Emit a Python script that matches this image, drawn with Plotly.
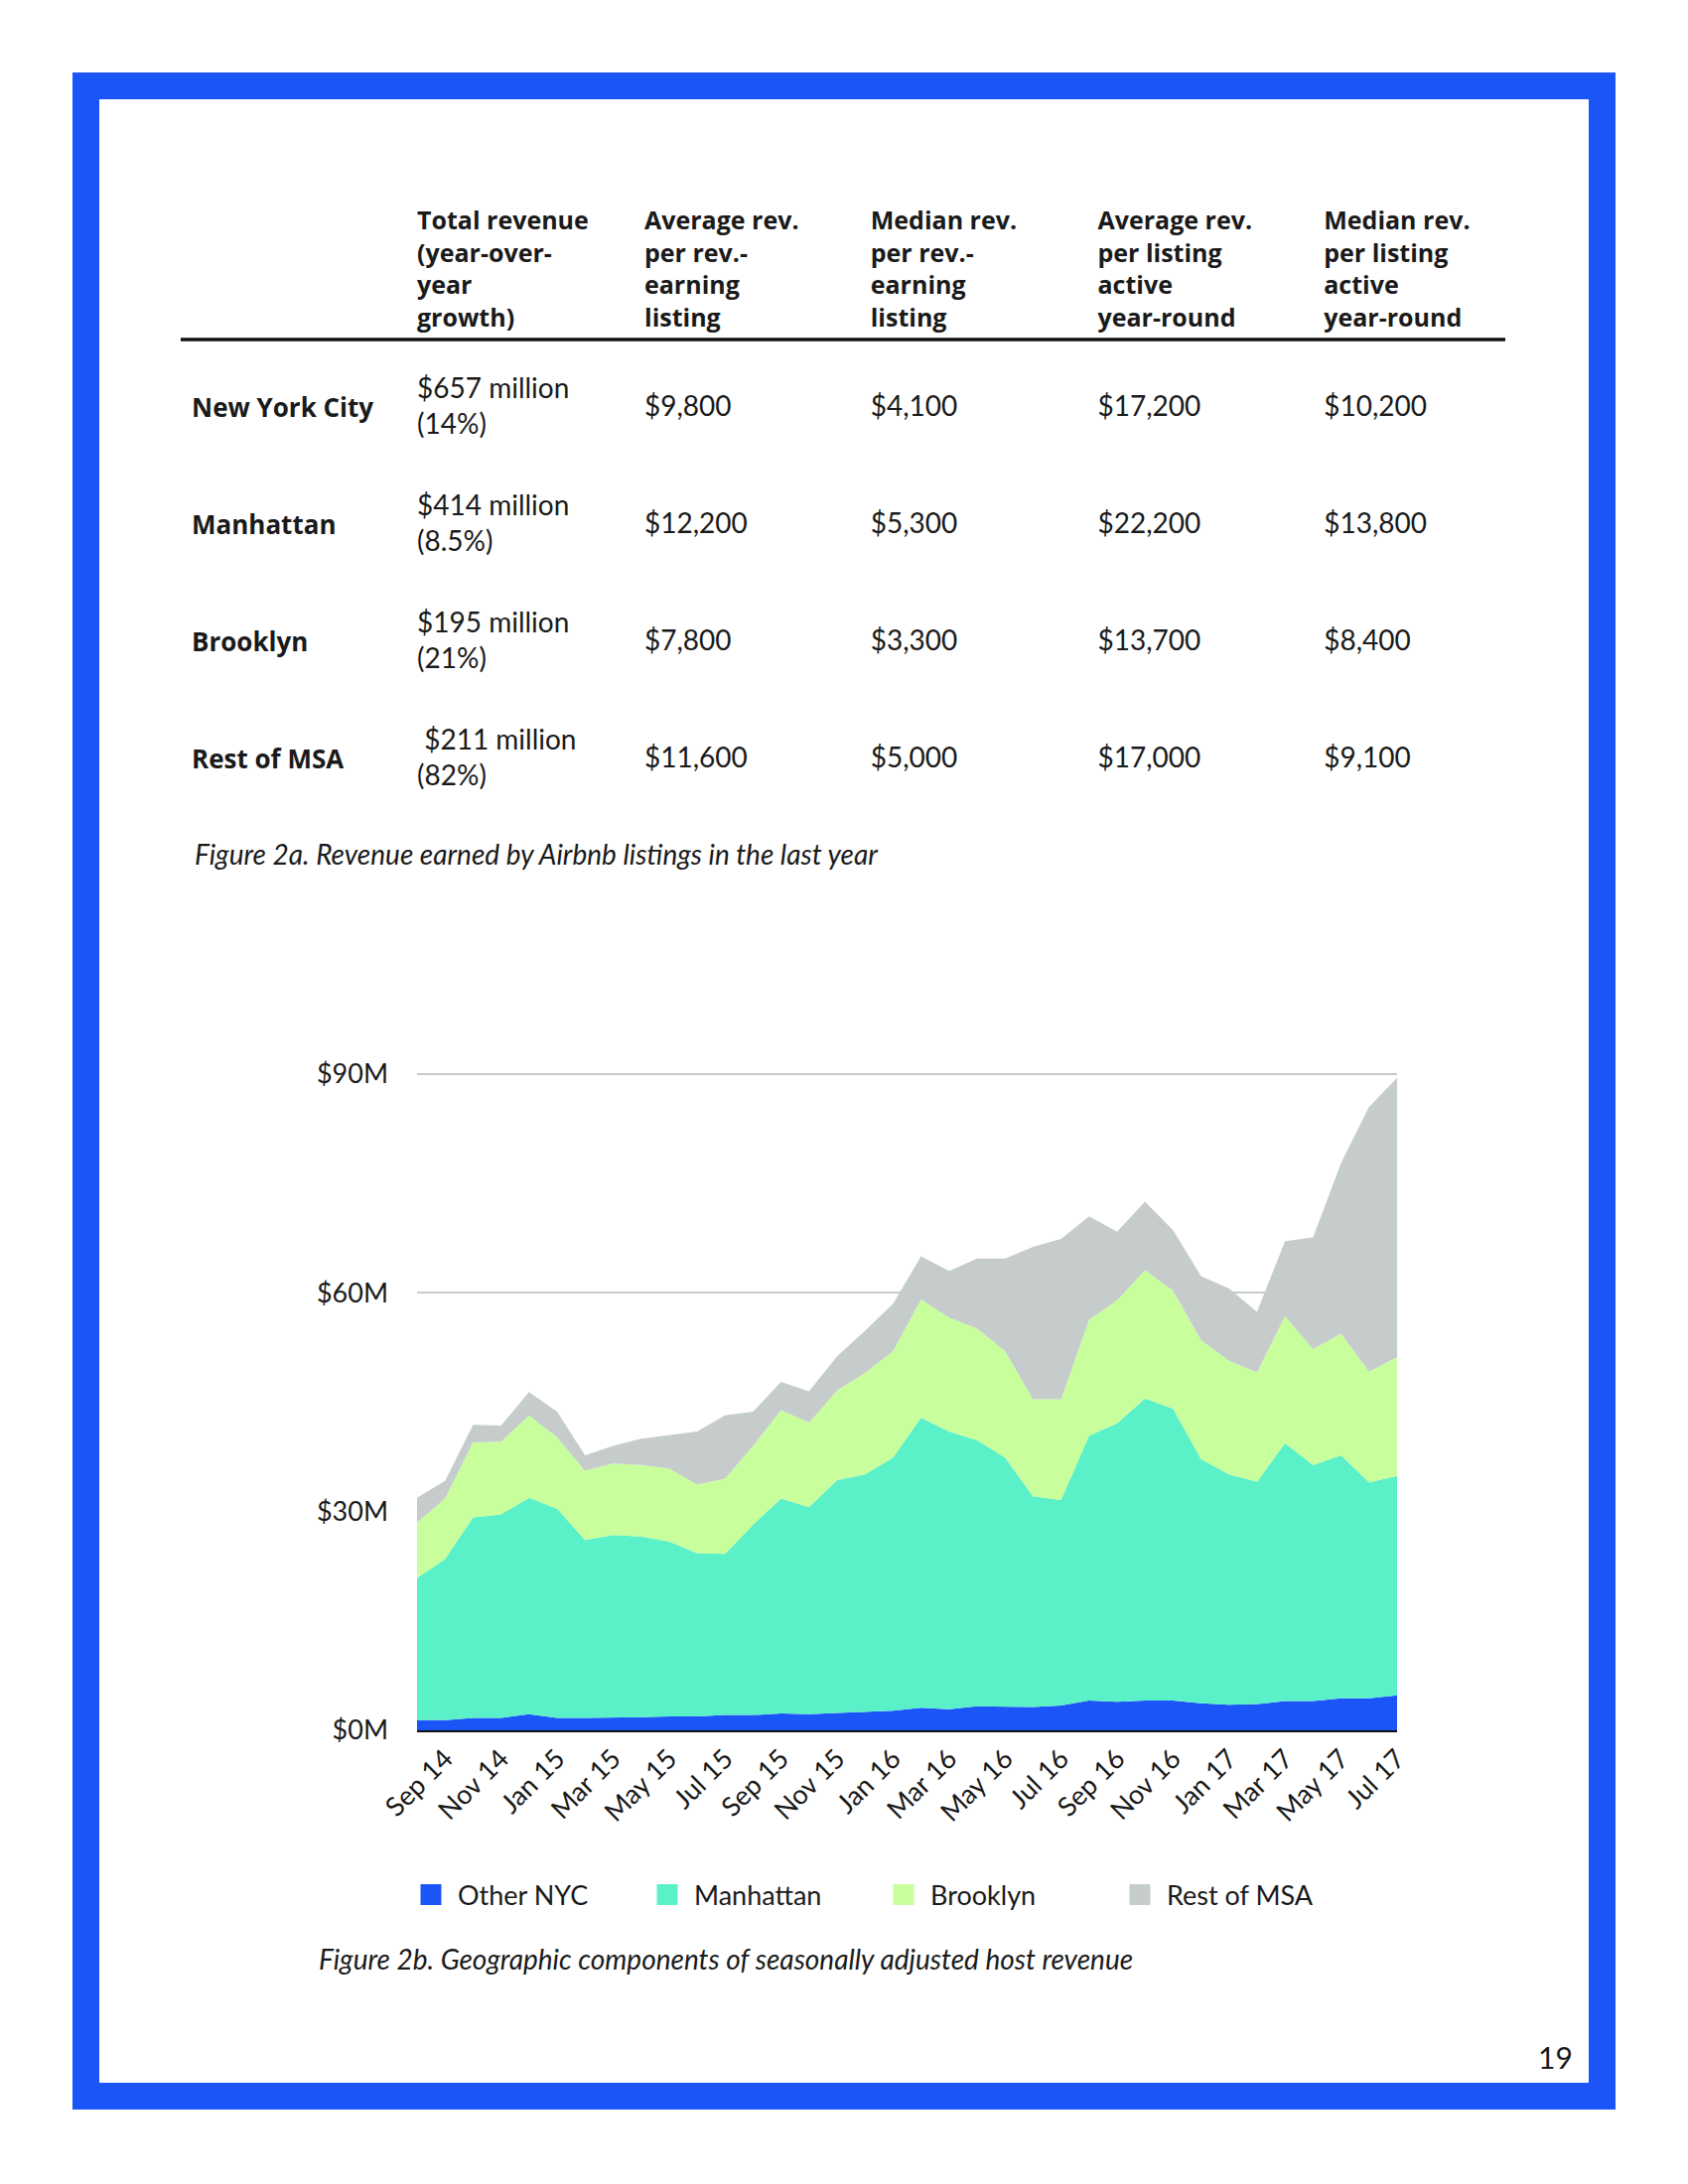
import plotly.graph_objects as go

# page is 1700x2200; the browser body adds an 8px margin, so the figure is drawn 8px smaller
PAGE_OFF = 8
W, H = 1700 - PAGE_OFF, 2200 - PAGE_OFF
FONT = "Lato"
HFONT = "Open Sans"
INK = "#1a1a1a"

# ---------------- data ----------------
months = ["Aug 14", "Sep 14", "Oct 14", "Nov 14", "Dec 14", "Jan 15", "Feb 15", "Mar 15", "Apr 15",
          "May 15", "Jun 15", "Jul 15", "Aug 15", "Sep 15", "Oct 15", "Nov 15", "Dec 15", "Jan 16",
          "Feb 16", "Mar 16", "Apr 16", "May 16", "Jun 16", "Jul 16", "Aug 16", "Sep 16", "Oct 16",
          "Nov 16", "Dec 16", "Jan 17", "Feb 17", "Mar 17", "Apr 17", "May 17", "Jun 17", "Jul 17"]

# monthly seasonally adjusted host revenue components ($M)
other_nyc = [1.4, 1.4, 1.7, 1.7, 2.2, 1.7, 1.7, 1.7, 1.8, 1.9, 1.9, 2.1, 2.1, 2.3, 2.2, 2.4, 2.5, 2.7,
             3.1, 2.9, 3.3, 3.3, 3.2, 3.4, 4.1, 3.9, 4.1, 4.1, 3.7, 3.5, 3.6, 4.0, 4.0, 4.4, 4.4, 4.8]
manhattan = [19.5, 22.1, 27.5, 27.9, 29.7, 28.7, 24.4, 25.1, 24.8, 24.0, 22.4, 22.1, 26.1, 29.5, 28.4, 31.9, 32.6, 34.7,
             39.8, 38.1, 36.5, 34.1, 28.9, 28.2, 36.3, 38.2, 41.4, 40.0, 33.5, 31.6, 30.5, 35.4, 32.4, 33.3, 29.6, 30.1]
brooklyn = [7.6, 8.3, 10.3, 10.0, 11.3, 9.8, 9.5, 9.8, 9.8, 10.0, 9.4, 10.3, 10.8, 12.1, 11.6, 12.3, 13.9, 14.6,
            16.2, 15.6, 15.3, 14.6, 13.3, 13.8, 15.9, 16.9, 17.6, 16.2, 16.3, 15.6, 15.0, 17.4, 15.9, 16.7, 15.2, 16.3]
rest_msa = [3.4, 2.4, 2.4, 2.2, 3.2, 3.5, 2.1, 2.4, 3.6, 4.6, 7.3, 8.7, 4.7, 3.9, 4.3, 4.7, 5.8, 6.5,
            5.9, 6.4, 9.6, 12.7, 20.9, 22.0, 14.2, 9.4, 9.4, 8.3, 8.8, 9.9, 8.3, 10.3, 15.3, 23.4, 36.3, 38.3]

series_names = ["Other NYC", "Manhattan", "Brooklyn", "Rest of MSA"]
series_colors = ["#1b55f8", "#5af0c8", "#c8ff9c", "#c5cccb"]

x_tick_vals = months[1::2]
x_tick_text = months[1::2]
y_tick_vals = [0, 30, 60, 90]
y_tick_text = ["$0M", "$30M", "$60M", "$90M"]

# table (Figure 2a)
row_labels = ["New York City", "Manhattan", "Brooklyn", "Rest of MSA"]
total_revenue = ["$657 million", "$414 million", "$195 million", "\u00a0$211 million"]
yoy_growth = ["(14%)", "(8.5%)", "(21%)", "(82%)"]
avg_rev_earning = ["$9,800", "$12,200", "$7,800", "$11,600"]
med_rev_earning = ["$4,100", "$5,300", "$3,300", "$5,000"]
avg_rev_active = ["$17,200", "$22,200", "$13,700", "$17,000"]
med_rev_active = ["$10,200", "$13,800", "$8,400", "$9,100"]
col_headers = ["",
               "Total revenue<br>(year-over-<br>year<br>growth)",
               "Average rev.<br>per rev.-<br>earning<br>listing",
               "Median rev.<br>per rev.-<br>earning<br>listing",
               "Average rev.<br>per listing<br>active<br>year-round",
               "Median rev.<br>per listing<br>active<br>year-round"]


def px(x):
    return (x - PAGE_OFF) / W


def py(y):
    return 1 - (y - PAGE_OFF) / H


fig = go.Figure()

# ---------------- table ----------------
HFS = 25
CFS = 28
LFS = 26
tbl_top = 196
row_h = 118
hdr_h = 188
tbl_bottom = tbl_top + hdr_h + 4 * row_h + 20
cell_base = dict(fill_color="white", line_color="white", line_width=0, align="left", height=row_h)
hdr_base = dict(fill_color="white", line_color="white", line_width=0, align="left",
                font=dict(family=HFONT, size=HFS, color=INK))

fig.add_trace(go.Table(
    domain=dict(x=[px(185), px(412)], y=[py(tbl_bottom), py(tbl_top)]),
    header=dict(values=[""], height=hdr_h, **hdr_base),
    cells=dict(values=[["<b>" + r + "</b>" for r in row_labels]],
               font=dict(family=HFONT, size=LFS, color=INK), **cell_base),
))
fig.add_trace(go.Table(
    domain=dict(x=[px(412), px(641)], y=[py(tbl_bottom), py(tbl_top)]),
    header=dict(values=["<b>" + col_headers[1] + "</b>"], height=hdr_h - 19, **hdr_base),
    cells=dict(values=[[a + "<br>" + b for a, b in zip(total_revenue, yoy_growth)]],
               font=dict(family=FONT, size=CFS, color=INK), **cell_base),
))
fig.add_trace(go.Table(
    domain=dict(x=[px(641), px(1520)], y=[py(tbl_bottom), py(tbl_top)]),
    columnwidth=[228, 229, 228, 194],
    header=dict(values=["<b>" + h + "</b>" for h in col_headers[2:]], height=hdr_h + 6, **hdr_base),
    cells=dict(values=[avg_rev_earning, med_rev_earning, avg_rev_active, med_rev_active],
               font=dict(family=FONT, size=CFS, color=INK), **cell_base),
))

# ---------------- stacked area chart ----------------
for name, vals, col in zip(series_names, [other_nyc, manhattan, brooklyn, rest_msa], series_colors):
    fig.add_trace(go.Scatter(
        x=months, y=vals, name=name, stackgroup="one", mode="lines",
        line=dict(width=0, color=col), fillcolor=col, showlegend=False, hoverinfo="skip",
    ))
for name, col in zip(series_names, series_colors):
    fig.add_trace(go.Scatter(
        x=[None], y=[None], name=name, mode="markers",
        marker=dict(symbol="square", size=16, color=col, line=dict(width=5, color=col)),
        showlegend=True,
    ))

Y_TOP = 90.5
y_bottom_px = 1743
y_top_px = y_bottom_px - (y_bottom_px - 1082) * Y_TOP / 90

fig.update_layout(
    width=W, height=H,
    margin=dict(l=0, r=0, t=0, b=0, pad=0, autoexpand=False),
    paper_bgcolor="white", plot_bgcolor="white",
    font=dict(family=FONT, color=INK),
    xaxis=dict(
        domain=[px(420), px(1407)],
        type="category", categoryorder="array", categoryarray=months,
        range=[0, len(months) - 1],
        tickmode="array", tickvals=x_tick_vals, ticktext=x_tick_text,
        tickangle=-45, tickfont=dict(family=FONT, size=27, color=INK),
        showgrid=False, showline=True, linecolor="#111111", linewidth=2,
        ticks="", zeroline=False, fixedrange=True,
    ),
    yaxis=dict(
        domain=[py(y_bottom_px), py(y_top_px)],
        range=[0, Y_TOP],
        tickmode="array", tickvals=y_tick_vals, ticktext=y_tick_text,
        tickfont=dict(family=FONT, size=27, color=INK),
        showgrid=True, gridcolor="#c5cccb", gridwidth=2,
        showline=False, zeroline=False, ticks="", ticklabelstandoff=28,
        fixedrange=True,
    ),
    legend=dict(
        orientation="h", x=px(407), xanchor="left", y=py(1909), yanchor="middle",
        font=dict(family=FONT, size=27, color=INK),
        itemwidth=44,
        entrywidth=179, entrywidthmode="pixels",
        bgcolor="rgba(0,0,0,0)", traceorder="normal",
    ),
    showlegend=True,
)

# ---------------- decorations ----------------
BLUE = "#1b55f8"
outer = (73, 73, 1627, 2125)
t = 27
for (x0, y0, x1, y1) in [
    (outer[0], outer[1], outer[2], outer[1] + t),
    (outer[0], outer[3] - t, outer[2], outer[3]),
    (outer[0], outer[1], outer[0] + t, outer[3]),
    (outer[2] - t, outer[1], outer[2], outer[3]),
]:
    fig.add_shape(type="rect", xref="paper", yref="paper",
                  x0=px(x0), x1=px(x1), y0=py(y1), y1=py(y0),
                  fillcolor=BLUE, line=dict(width=0), layer="above")

# header underline
fig.add_shape(type="line", xref="paper", yref="paper",
              x0=px(182), x1=px(1516), y0=py(342), y1=py(342),
              line=dict(color="#111111", width=3.5), layer="above")

fig.add_annotation(text="<i>Figure 2a. Revenue earned by Airbnb listings in the last year</i>",
                   xref="paper", yref="paper", x=px(194), y=py(860), xanchor="left", yanchor="middle",
                   showarrow=False, font=dict(family=FONT, size=28, color=INK))
fig.add_annotation(text="<i>Figure 2b. Geographic components of seasonally adjusted host revenue</i>",
                   xref="paper", yref="paper", x=px(319), y=py(1973), xanchor="left", yanchor="middle",
                   showarrow=False, font=dict(family=FONT, size=28, color=INK))
fig.add_annotation(text="19", xref="paper", yref="paper", x=px(1566), y=py(2072),
                   xanchor="center", yanchor="middle", showarrow=False,
                   font=dict(family=FONT, size=30, color=INK))

fig.write_html("out.html")
